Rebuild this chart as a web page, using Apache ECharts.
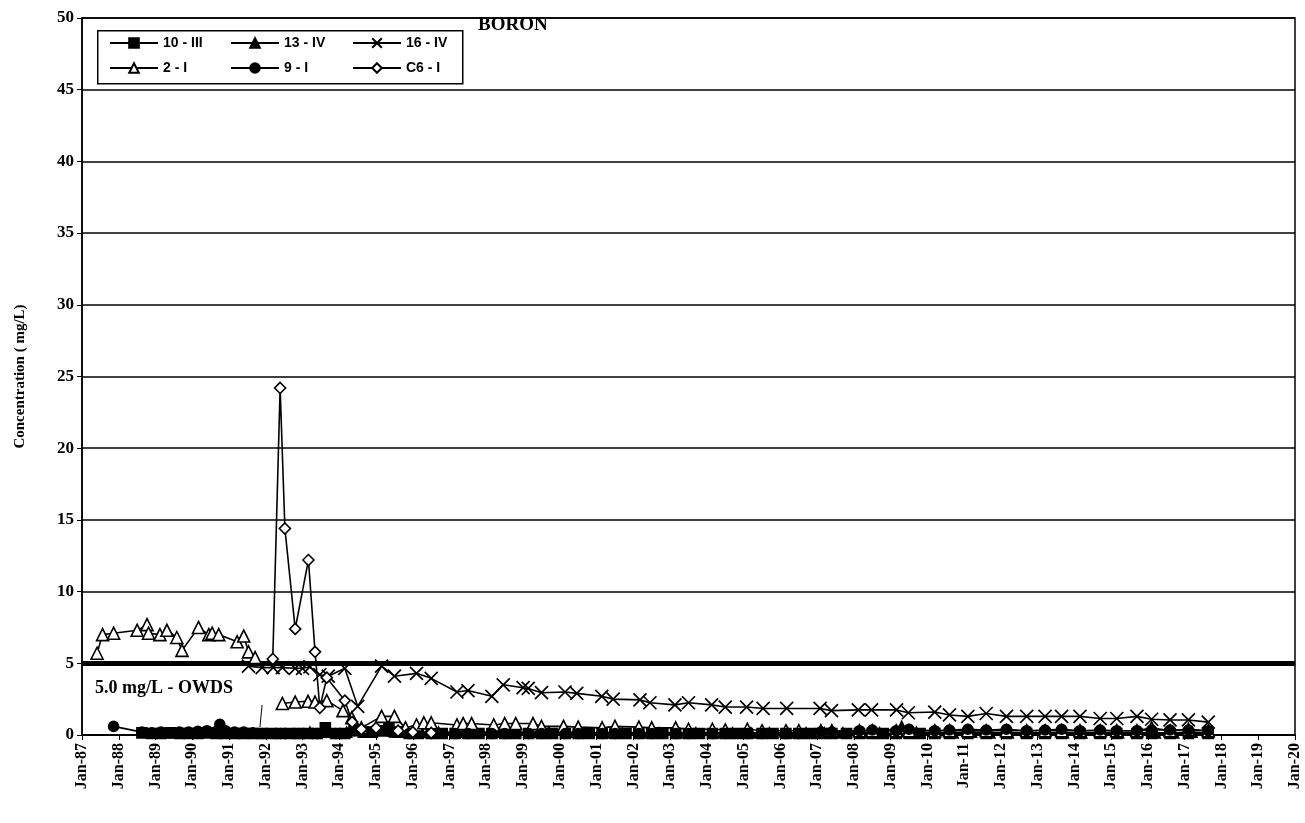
<!DOCTYPE html>
<html>
<head>
<meta charset="utf-8">
<script src="https://cdn.jsdelivr.net/npm/echarts@6/dist/echarts.min.js"></script>
<style>html,body{margin:0;padding:0;background:#fff;}#c{width:1305px;height:823px;}</style>
</head>
<body>
<div id="c"></div>
<script>
// ---- data (x = decimal year, y = mg/L) ----
const xTickLabels = ['Jan-87','Jan-88','Jan-89','Jan-90','Jan-91','Jan-92','Jan-93','Jan-94','Jan-95','Jan-96','Jan-97','Jan-98','Jan-99','Jan-00','Jan-01','Jan-02','Jan-03','Jan-04','Jan-05','Jan-06','Jan-07','Jan-08','Jan-09','Jan-10','Jan-11','Jan-12','Jan-13','Jan-14','Jan-15','Jan-16','Jan-17','Jan-18','Jan-19','Jan-20'];
const seriesNames = ['10 - III','13 - IV','16 - IV','2 - I','9 - I','C6 - I'];
const owdsLimit = 5.0;

const s10III = [[1988.63,0.15],[1988.9,0.1],[1989.15,0.1],[1989.4,0.15],[1989.65,0.1],[1989.9,0.1],[1990.15,0.1],[1990.4,0.15],[1990.65,0.1],[1990.9,0.1],[1991.15,0.1],[1991.4,0.1],[1991.65,0.1],[1991.9,0.1],[1992.15,0.1],[1992.4,0.1],[1992.65,0.1],[1992.9,0.1],[1993.15,0.1],[1993.4,0.1],[1993.62,0.5],[1993.9,0.1],[1994.15,0.1],[1994.4,0.3],[1994.65,0.2],[1994.9,0.2],[1995.15,0.3],[1995.35,0.5],[1995.6,0.2],[1995.9,0.1],[1996.15,0.1],[1996.5,0.1],[1996.8,0.1],[1997.15,0.1],[1997.5,0.1],[1997.8,0.1],[1998.15,0.1],[1998.5,0.1],[1998.8,0.1],[1999.15,0.1],[1999.5,0.1],[1999.8,0.1],[2000.15,0.1],[2000.5,0.1],[2000.8,0.1],[2001.15,0.1],[2001.5,0.1],[2001.8,0.1],[2002.15,0.1],[2002.5,0.1],[2002.8,0.1],[2003.15,0.1],[2003.5,0.1],[2003.8,0.1],[2004.15,0.1],[2004.5,0.1],[2004.8,0.1],[2005.1,0.1],[2005.5,0.1],[2005.8,0.1],[2006.15,0.1],[2006.5,0.1],[2006.8,0.1],[2007.1,0.1],[2007.4,0.1],[2007.8,0.1],[2008.15,0.1],[2008.5,0.1],[2008.8,0.1],[2009.15,0.1],[2009.5,0.1],[2009.8,0.1],[2010.2,0.1],[2010.6,0.1],[2011.1,0.1],[2011.6,0.1],[2012.15,0.1],[2012.7,0.1],[2013.2,0.1],[2013.65,0.1],[2014.15,0.1],[2014.7,0.1],[2015.15,0.1],[2015.7,0.1],[2016.1,0.1],[2016.6,0.1],[2017.1,0.1],[2017.64,0.1]];

const s13IV = [[1993.2,0.2],[1993.7,0.2],[1994.2,0.2],[1994.7,0.3],[1995.2,0.3],[1995.7,0.2],[1996.2,0.2],[1996.7,0.2],[1997.2,0.2],[1997.7,0.2],[1998.2,0.2],[1998.7,0.2],[1999.2,0.2],[1999.7,0.2],[2000.2,0.2],[2000.7,0.15],[2001.2,0.15],[2001.7,0.15],[2002.2,0.15],[2002.7,0.15],[2003.2,0.15],[2003.7,0.15],[2004.2,0.15],[2004.7,0.15],[2005.2,0.15],[2005.7,0.15],[2006.2,0.15],[2006.7,0.15],[2007.2,0.15],[2007.7,0.15],[2008.2,0.15],[2008.7,0.15],[2009.3,0.6],[2009.7,0.2],[2010.2,0.15],[2010.7,0.15],[2011.2,0.2],[2011.7,0.15],[2012.2,0.15],[2012.7,0.15],[2013.2,0.15],[2013.7,0.15],[2014.2,0.15],[2014.7,0.15],[2015.2,0.15],[2015.7,0.15],[2016.2,0.15],[2016.7,0.15],[2017.2,0.2],[2017.64,0.15]];

const s16IV = [[1991.53,4.8],[1991.9,4.7],[1992.2,4.7],[1992.45,4.7],[1992.8,4.65],[1993.0,4.65],[1993.2,4.75],[1993.47,4.2],[1993.7,4.1],[1994.15,4.65],[1994.5,2.0],[1995.15,4.8],[1995.5,4.1],[1996.1,4.3],[1996.5,3.95],[1997.2,3.0],[1997.5,3.1],[1998.15,2.7],[1998.46,3.5],[1999.0,3.3],[1999.14,3.25],[1999.5,2.95],[2000.14,3.0],[2000.46,2.9],[2001.14,2.7],[2001.45,2.5],[2002.18,2.45],[2002.45,2.25],[2003.13,2.1],[2003.5,2.25],[2004.13,2.1],[2004.5,1.95],[2005.08,1.95],[2005.53,1.85],[2006.17,1.85],[2007.08,1.85],[2007.39,1.7],[2008.12,1.75],[2008.48,1.75],[2009.16,1.75],[2009.48,1.55],[2010.2,1.6],[2010.6,1.4],[2011.1,1.3],[2011.6,1.5],[2012.15,1.3],[2012.7,1.3],[2013.2,1.3],[2013.65,1.3],[2014.15,1.3],[2014.7,1.15],[2015.15,1.15],[2015.7,1.3],[2016.1,1.1],[2016.6,1.05],[2017.1,1.05],[2017.64,0.9]];

const s2I = [[1987.41,5.7],[1987.56,7.0],[1987.86,7.1],[1988.5,7.3],[1988.77,7.7],[1988.81,7.1],[1989.12,7.0],[1989.31,7.3],[1989.58,6.8],[1989.72,5.9],[1990.17,7.5],[1990.45,7.0],[1990.54,7.1],[1990.72,7.0],[1991.22,6.5],[1991.4,6.9],[1991.53,5.8],[1991.71,5.4],[1992.0,'-'],[1992.45,2.2],[1992.8,2.3],[1993.15,2.35],[1993.34,2.3],[1993.66,2.4],[1994.1,1.7],[1994.34,1.2],[1994.6,0.5],[1995.15,1.3],[1995.5,1.3],[1995.8,0.5],[1996.1,0.7],[1996.3,0.85],[1996.5,0.85],[1997.2,0.7],[1997.37,0.8],[1997.6,0.8],[1998.2,0.7],[1998.5,0.8],[1998.8,0.8],[1999.27,0.8],[1999.5,0.6],[2000.1,0.6],[2000.5,0.55],[2001.15,0.5],[2001.5,0.6],[2002.15,0.55],[2002.5,0.5],[2003.15,0.5],[2003.5,0.4],[2004.15,0.4],[2004.5,0.35],[2005.1,0.4],[2005.5,0.3],[2006.15,0.3],[2006.5,0.3],[2007.1,0.3],[2007.4,0.3],[2008.15,0.3],[2008.5,0.3],[2009.15,0.3],[2009.5,0.3],[2010.2,0.3],[2010.6,0.3],[2011.1,0.3],[2011.6,0.3],[2012.15,0.3],[2012.7,0.3],[2013.2,0.3],[2013.65,0.3],[2014.15,0.3],[2014.7,0.3],[2015.15,0.3],[2015.7,0.3],[2016.1,0.5],[2016.6,0.3],[2017.1,0.4],[2017.64,0.3]];

const s9I = [[1987.86,0.6],[1988.63,0.2],[1988.9,0.15],[1989.15,0.2],[1989.4,0.15],[1989.65,0.2],[1989.9,0.2],[1990.15,0.25],[1990.4,0.3],[1990.75,0.75],[1990.9,0.3],[1991.15,0.2],[1991.4,0.2],[1991.65,0.15],[1991.9,0.1],[1992.4,0.1],[1992.9,0.1],[1993.4,0.1],[1993.9,0.1],[1994.4,0.3],[1994.9,0.2],[1995.4,0.2],[1995.9,0.1],[1996.5,0.1],[1997.15,0.1],[1997.5,0.1],[1998.15,0.1],[1998.5,0.1],[1999.15,0.1],[1999.5,0.1],[2000.15,0.1],[2000.5,0.1],[2001.15,0.1],[2001.5,0.1],[2002.15,0.1],[2002.5,0.1],[2003.15,0.1],[2003.5,0.1],[2004.15,0.1],[2004.5,0.1],[2005.1,0.1],[2005.5,0.1],[2006.15,0.1],[2006.5,0.1],[2007.1,0.2],[2007.4,0.2],[2008.15,0.3],[2008.5,0.35],[2009.15,0.3],[2009.5,0.4],[2010.2,0.3],[2010.6,0.35],[2011.1,0.4],[2011.6,0.35],[2012.15,0.4],[2012.7,0.3],[2013.2,0.35],[2013.65,0.4],[2014.15,0.3],[2014.7,0.35],[2015.15,0.3],[2015.7,0.3],[2016.1,0.35],[2016.6,0.35],[2017.1,0.35],[2017.64,0.3]];

const sC6I = [[1992.19,5.3],[1992.39,24.2],[1992.52,14.4],[1992.8,7.4],[1993.16,12.2],[1993.34,5.8],[1993.47,1.9],[1993.66,4.0],[1994.15,2.4],[1994.35,0.9],[1994.6,0.4],[1995.0,0.5],[1995.6,0.3],[1996.0,0.2],[1996.5,0.15]];

// ---- chart ----
const serif = '"Liberation Serif","Times New Roman",serif';
const sans = '"Liberation Sans",Arial,sans-serif';
const xPath = 'path://M0,0L10,10M10,0L0,10';

function mk(name, data, symbol, size, filled, z) {
  return {
    name, type: 'line', data, symbol, symbolSize: size, z,
    connectNulls: false,
    lineStyle: { color: '#000', width: 1.6 },
    itemStyle: { color: filled ? '#000' : '#fff', borderColor: '#000', borderWidth: 1.6 },
    emphasis: { disabled: true },
    animation: false
  };
}

const series = [
  mk(seriesNames[0], s10III, 'rect', 10, true, 2),
  mk(seriesNames[1], s13IV, 'triangle', 10, true, 3),
  mk(seriesNames[2], s16IV, xPath, 13, false, 4),
  mk(seriesNames[3], s2I, 'triangle', 12, false, 5),
  mk(seriesNames[4], s9I, 'circle', 10, true, 6),
  mk(seriesNames[5], sC6I, 'diamond', 11, false, 7)
];
series[2].itemStyle = { color: 'transparent', borderColor: '#000', borderWidth: 1.7 };
series[0].markLine = {
  silent: true, symbol: 'none', animation: false,
  label: { show: false },
  data: [
    { yAxis: owdsLimit, lineStyle: { color: '#000', width: 5, type: 'solid' } },
    [ { coord: [1991.9, 2.1], lineStyle: { color: '#000', width: 1, type: 'solid' } }, { coord: [1991.84, 0.55] } ]
  ]
};

const legendText = { fontFamily: sans, fontWeight: 'bold', fontSize: 14, color: '#000' };
function legendCol(left, names) {
  return {
    left, top: 36, orient: 'vertical', padding: 0,
    itemWidth: 48, itemHeight: 12, itemGap: 11,
    data: names, textStyle: legendText, z: 20
  };
}

const chart = echarts.init(document.getElementById('c'), null, { renderer: 'canvas' });
chart.setOption({
  backgroundColor: '#fff',
  animation: false,
  title: {
    text: 'BORON', left: 473, top: 11,
    textStyle: { fontFamily: serif, fontWeight: 'bold', fontSize: 19, color: '#000' }
  },
  legend: [
    legendCol(109, [seriesNames[0], seriesNames[3]]),
    legendCol(230, [seriesNames[1], seriesNames[4]]),
    legendCol(352, [seriesNames[2], seriesNames[5]])
  ],
  grid: { left: 82, right: 10, top: 18, bottom: 88, show: true, borderColor: '#000', borderWidth: 1.5, backgroundColor: 'transparent' },
  xAxis: {
    type: 'value', min: 1987, max: 2020, interval: 1,
    axisLine: { lineStyle: { color: '#000', width: 1.5 } },
    axisTick: { show: true, inside: false, length: 5, lineStyle: { color: '#000' } },
    splitLine: { show: false },
    axisLabel: {
      rotate: 90, margin: 8,
      fontFamily: serif, fontWeight: 'bold', fontSize: 16, color: '#000',
      formatter: v => xTickLabels[Math.round(v - 1987)]
    }
  },
  yAxis: {
    type: 'value', min: 0, max: 50, interval: 5,
    name: 'Concentration ( mg/L)', nameLocation: 'middle', nameGap: 54, nameRotate: 90,
    nameTextStyle: { fontFamily: serif, fontWeight: 'bold', fontSize: 15, color: '#000' },
    axisLine: { show: true, lineStyle: { color: '#000', width: 1.5 } },
    axisTick: { show: true, inside: false, length: 5, lineStyle: { color: '#000' } },
    splitLine: { show: true, lineStyle: { color: '#000', width: 1.5 } },
    axisLabel: { fontFamily: serif, fontWeight: 'bold', fontSize: 17, color: '#000', margin: 8 }
  },
  graphic: [
    {
      type: 'rect', left: 97, top: 30, z: 10,
      shape: { width: 365, height: 53 },
      style: { fill: '#fff', stroke: '#000', lineWidth: 1.5 }
    },
    {
      type: 'text', left: 95, top: 679, z: 100,
      style: { text: '5.0 mg/L - OWDS', fontFamily: serif, fontWeight: 'bold', fontSize: 18, fill: '#000' }
    }
  ],
  series
});
</script>
</body>
</html>
